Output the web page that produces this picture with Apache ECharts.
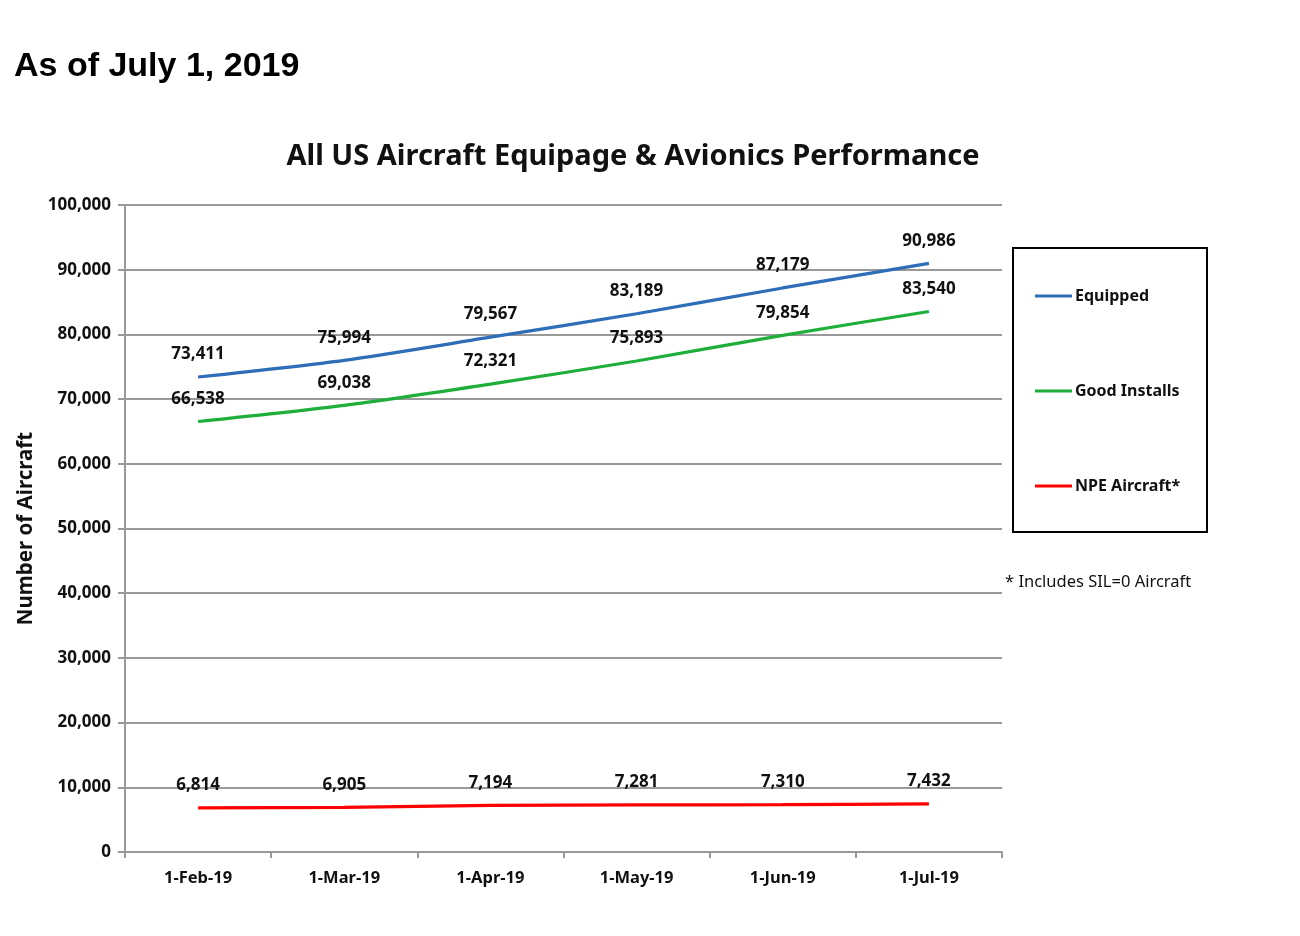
<!DOCTYPE html>
<html>
<head>
<meta charset="utf-8">
<script src="https://cdn.jsdelivr.net/npm/echarts@6/dist/echarts.min.js"></script>
<style>
html,body{margin:0;padding:0;background:#fff;}
#main{width:1300px;height:936px;}
</style>
</head>
<body>
<div id="main"></div>
<script>
const categories = ['1-Feb-19','1-Mar-19','1-Apr-19','1-May-19','1-Jun-19','1-Jul-19'];
const equipped = [73411, 75994, 79567, 83189, 87179, 90986];
const goodInstalls = [66538, 69038, 72321, 75893, 79854, 83540];
const npeAircraft = [6814, 6905, 7194, 7281, 7310, 7432];
const yTicks = { min: 0, max: 100000, interval: 10000 };

const FONT = 'Noto Sans';
const chart = echarts.init(document.getElementById('main'));

function lineSeries(name, data, color) {
  return {
    name: name,
    type: 'line',
    data: data,
    smooth: 0.25,
    symbol: 'circle',
    symbolSize: 0.1,
    showSymbol: true,
    lineStyle: { color: color, width: 3.2 },
    itemStyle: { color: color },
    label: {
      show: true,
      position: 'top',
      distance: 14,
      fontFamily: FONT,
      fontWeight: 'bold',
      fontSize: 17,
      color: '#111',
      formatter: p => p.value.toLocaleString('en-US')
    },
    z: 3
  };
}

chart.setOption({
  animation: false,
  backgroundColor: '#fff',
  title: [
    { text: 'As of July 1, 2019', left: 9, top: 45,
      textStyle: { fontFamily: 'Liberation Sans', fontWeight: 'bold', fontSize: 34, color: '#000' } },
    { text: 'All US Aircraft Equipage & Avionics Performance', left: 628, top: 137, textAlign: 'center',
      textStyle: { fontFamily: FONT, fontWeight: 'bold', fontSize: 29, color: '#111' } }
  ],
  grid: { left: 125, right: 298, top: 205, bottom: 84, containLabel: false },
  legend: {
    orient: 'vertical',
    left: 1030, top: 283,
    itemGap: 79,
    icon: 'rect',
    itemWidth: 37, itemHeight: 3,
    textStyle: { fontFamily: FONT, fontWeight: 'bold', fontSize: 16, color: '#111', padding: [0, 0, 0, -2] },
    data: ['Equipped', 'Good Installs', 'NPE Aircraft*']
  },
  graphic: [
    { type: 'rect', shape: { x: 1013, y: 248, width: 194, height: 284 },
      style: { fill: 'none', stroke: '#000', lineWidth: 2 } },
    { type: 'text', x: 1005, y: 574,
      style: { text: '* Includes SIL=0 Aircraft', fontFamily: FONT, fontSize: 16.5, fill: '#111' } }
  ],
  xAxis: {
    type: 'category',
    data: categories,
    boundaryGap: true,
    axisLine: { lineStyle: { color: '#999', width: 2 } },
    axisTick: { show: true, length: 6, lineStyle: { color: '#999', width: 2 } },
    axisLabel: { margin: 18, fontFamily: FONT, fontWeight: 'bold', fontSize: 16.5, color: '#111' }
  },
  yAxis: {
    type: 'value',
    min: yTicks.min, max: yTicks.max, interval: yTicks.interval,
    name: 'Number of Aircraft',
    nameLocation: 'middle',
    nameGap: 85,
    nameTextStyle: { fontFamily: FONT, fontWeight: 'bold', fontSize: 20.5, color: '#111' },
    axisLine: { show: true, lineStyle: { color: '#999', width: 2 } },
    axisTick: { show: true, length: 7, lineStyle: { color: '#999', width: 2 } },
    splitLine: { show: true, lineStyle: { color: '#999', width: 2 } },
    axisLabel: { margin: 14, fontFamily: FONT, fontWeight: 'bold', fontSize: 17, color: '#111',
      formatter: v => v.toLocaleString('en-US') }
  },
  series: [
    lineSeries('Equipped', equipped, '#2E6DB8'),
    lineSeries('Good Installs', goodInstalls, '#1DAF3A'),
    lineSeries('NPE Aircraft*', npeAircraft, '#FF0000')
  ]
});
</script>
</body>
</html>
